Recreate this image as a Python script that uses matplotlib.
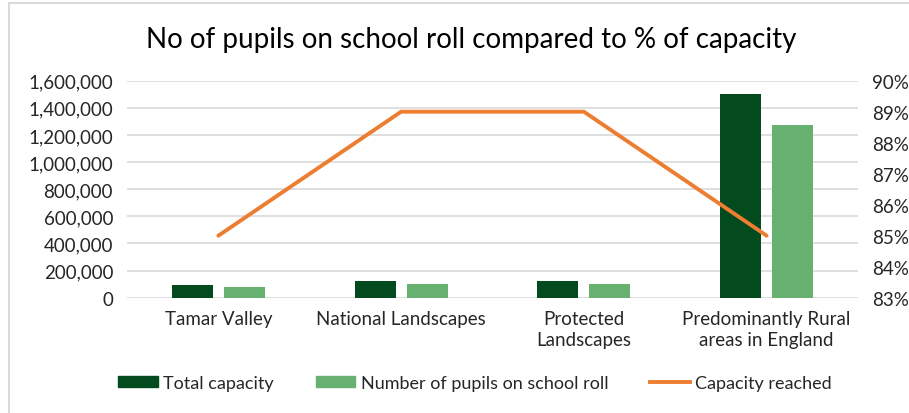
import matplotlib
matplotlib.use('Agg')
import matplotlib.pyplot as plt
import matplotlib.ticker as mticker
from matplotlib.patches import Rectangle, Patch
from matplotlib.lines import Line2D
import numpy as np

plt.rcParams['font.family'] = ['Lato', 'DejaVu Sans']

# data
categories = ['Tamar Valley', 'National Landscapes', 'Protected\nLandscapes',
              'Predominantly Rural\nareas in England']
total_capacity = [96000, 121000, 121000, 1504000]
pupils_on_roll = [81000, 103000, 100000, 1271000]
capacity_reached = [0.85, 0.89, 0.89, 0.85]

dark_green = '#034A1F'
light_green = '#67B170'
orange = '#ED7D31'
grid_col = '#D9D9D9'
txt_col = '#262626'

fig = plt.figure(figsize=(9.09, 4.14), dpi=100)
ax = fig.add_axes([127/909, 1 - 298.7/414, (858 - 127)/909, (298.7 - 81.7)/414])

x = np.arange(len(categories))
w = 0.224
off = 0.142
ax.bar(x - off, total_capacity, w, color=dark_green, zorder=2)
ax.bar(x + off, pupils_on_roll, w, color=light_green, zorder=2)
ax.set_xlim(-0.5, len(categories) - 0.5)
ax.set_ylim(0, 1600000)
ax.set_yticks(np.arange(0, 1600001, 200000))
ax.yaxis.set_major_formatter(mticker.FuncFormatter(lambda v, p: '{:,.0f}'.format(v)))
ax.grid(axis='y', color=grid_col, lw=1.2, zorder=0)
ax.set_axisbelow(True)
for s in ax.spines.values():
    s.set_visible(False)
ax.tick_params(axis='both', length=0, labelsize=13.5, colors=txt_col, pad=10)
ax.set_xticks(x)
ax.set_xticklabels(categories, fontsize=13.5, linespacing=1.25)
ax.tick_params(axis='x', pad=9)

ax2 = ax.twinx()
ax2.plot(x, capacity_reached, color=orange, lw=2.8, solid_capstyle='round', zorder=3)
ax2.set_ylim(0.83, 0.90)
ax2.set_yticks(np.arange(0.83, 0.9001, 0.01))
ax2.yaxis.set_major_formatter(mticker.FuncFormatter(lambda v, p: '{:.0f}%'.format(v * 100)))
for s in ax2.spines.values():
    s.set_visible(False)
ax2.tick_params(axis='y', length=0, labelsize=13.5, colors=txt_col, pad=10)

fig.text(471/909, 1 - 40/414, 'No of pupils on school roll compared to % of capacity',
         ha='center', va='center', fontsize=20, color='#000000')

# chart frame
fig.patches.append(Rectangle((9/909, -0.1), 1.2, 1 - 4/414 + 0.1, transform=fig.transFigure,
                             fill=False, edgecolor=grid_col, lw=1.5))

handles = [Patch(color=dark_green), Patch(color=light_green),
           Line2D([], [], color=orange, lw=2.8)]
labels = ['Total capacity', 'Number of pupils on school roll', 'Capacity reached']
fig.legend(handles, labels, loc='center', bbox_to_anchor=(475/909, 1 - 384/414), ncol=3,
           frameon=False, fontsize=13, handlelength=2.2, handleheight=0.6,
           columnspacing=2.3, handletextpad=0.3, labelcolor=txt_col)

fig.savefig('out.png', dpi=100)
